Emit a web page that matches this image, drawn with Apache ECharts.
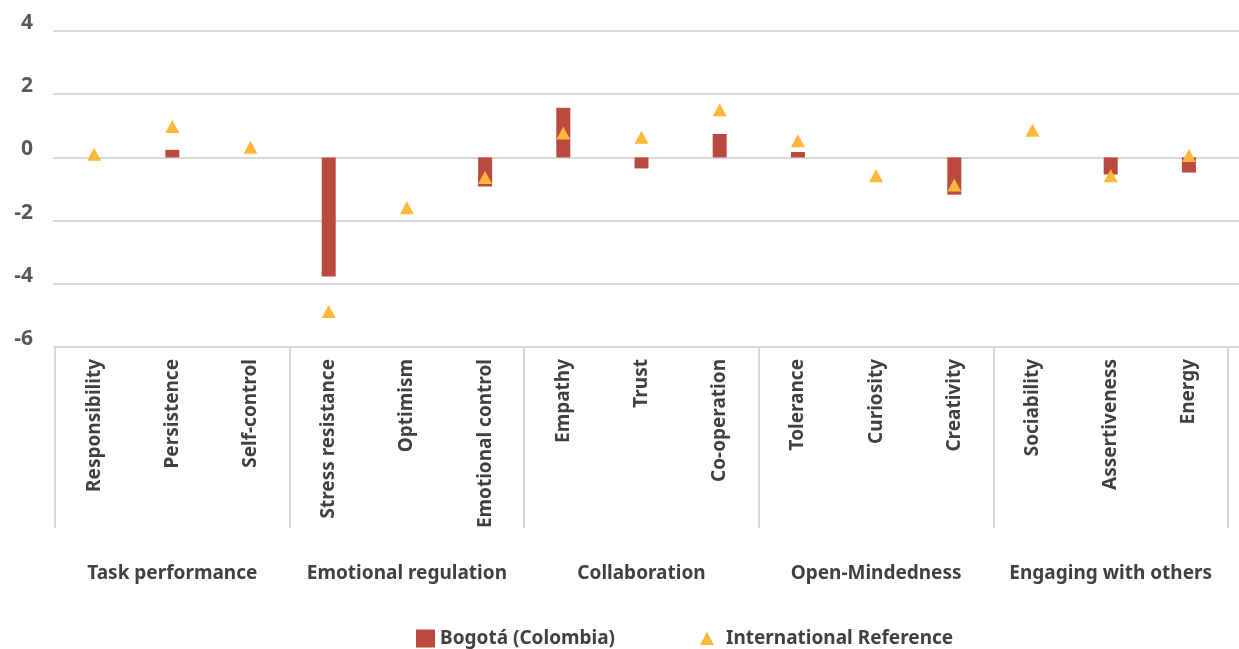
<!DOCTYPE html>
<html>
<head>
<meta charset="utf-8">
<script src="https://cdn.jsdelivr.net/npm/echarts@6/dist/echarts.min.js"></script>
<style>
  html, body { margin: 0; padding: 0; background: #fff; }
  #chart { width: 1239px; height: 649px; }
</style>
</head>
<body>
<div id="chart"></div>
<script>
// skills, in the order they appear on the axis
const skills = [
  'Responsibility', 'Persistence', 'Self-control',
  'Stress resistance', 'Optimism', 'Emotional control',
  'Empathy', 'Trust', 'Co-operation',
  'Tolerance', 'Curiosity', 'Creativity',
  'Sociability', 'Assertiveness', 'Energy'
];
const groups = ['Task performance', 'Emotional regulation', 'Collaboration', 'Open-Mindedness', 'Engaging with others'];

const bogota = [0, 0.24, 0, -3.77, 0, -0.92, 1.57, -0.35, 0.74, 0.17, 0, -1.18, 0, -0.54, -0.48];
const intlRef = [0.10, 0.98, 0.32, -4.88, -1.59, -0.64, 0.77, 0.64, 1.51, 0.53, -0.58, -0.87, 0.86, -0.58, 0.06];

const yTicks = { min: -6, max: 4, interval: 2 };

const font = '"Noto Sans", "Open Sans", sans-serif';
const grey = '#D9D9D9';
const textGrey = '#404040';

let chart = echarts.init(document.getElementById('chart'));

let option = {
  animation: false,
  textStyle: { fontFamily: font },
  grid: [
    { left: 55, right: 11, top: 31, bottom: 302, containLabel: false },
    // wider grid only for the horizontal gridlines
    { left: 53, right: 0, top: 31, bottom: 302, containLabel: false }
  ],
  legend: [
    {
      data: ['Bogotá (Colombia)'],
      left: 416, top: 629,
      padding: 0,
      itemWidth: 19, itemHeight: 18,
      icon: 'rect',
      textStyle: { fontFamily: font, fontSize: 19, fontWeight: 'bold', color: textGrey }
    },
    {
      data: ['International Reference'],
      left: 700, top: 629,
      padding: 0,
      itemWidth: 14, itemHeight: 13,
      icon: 'triangle',
      textStyle: { fontFamily: font, fontSize: 19, fontWeight: 'bold', color: textGrey, padding: [0, 0, 0, 7] }
    }
  ],
  xAxis: [
    {
      type: 'category',
      gridIndex: 0,
      data: skills,
      position: 'bottom',
      axisLine: { show: false },
      axisTick: { show: false },
      axisLabel: {
        rotate: 90,
        interval: 0,
        margin: 12,
        fontFamily: font,
        fontSize: 19,
        fontWeight: 'bold',
        color: textGrey
      }
    },
    {
      type: 'category',
      gridIndex: 0,
      data: groups,
      position: 'bottom',
      axisLine: { show: false },
      axisTick: {
        show: true,
        length: 181,
        interval: 0,
        lineStyle: { color: grey, width: 2 }
      },
      axisLabel: {
        interval: 0,
        margin: 217,
        fontFamily: font,
        fontSize: 19,
        fontWeight: 'bold',
        color: textGrey
      }
    },
    {
      type: 'value',
      gridIndex: 1,
      min: 0,
      max: 1,
      show: false
    }
  ],
  yAxis: [
    {
      type: 'value',
      gridIndex: 0,
      min: yTicks.min,
      max: yTicks.max,
      interval: yTicks.interval,
      axisLine: { show: false },
      axisTick: { show: false },
      splitLine: { show: false },
      axisLabel: {
        margin: 22,
        fontFamily: font,
        fontSize: 21,
        fontWeight: 'bold',
        color: '#595959',
        verticalAlign: 'bottom',
        lineHeight: 16
      }
    },
    {
      type: 'value',
      gridIndex: 1,
      min: yTicks.min,
      max: yTicks.max,
      interval: yTicks.interval,
      axisLine: { show: false },
      axisTick: { show: false },
      axisLabel: { show: false },
      splitLine: { show: true, lineStyle: { color: grey, width: 2 } }
    }
  ],
  series: [
    {
      name: 'Bogotá (Colombia)',
      type: 'bar',
      xAxisIndex: 0,
      yAxisIndex: 0,
      barWidth: 14,
      itemStyle: { color: '#BA4A3F' },
      data: bogota
    },
    {
      name: 'International Reference',
      type: 'scatter',
      xAxisIndex: 0,
      yAxisIndex: 0,
      symbol: 'triangle',
      symbolSize: [14, 13],
      itemStyle: { color: '#FDB73A', opacity: 1 },
      z: 3,
      data: intlRef
    }
  ]
};

chart.setOption(option);
</script>
</body>
</html>
